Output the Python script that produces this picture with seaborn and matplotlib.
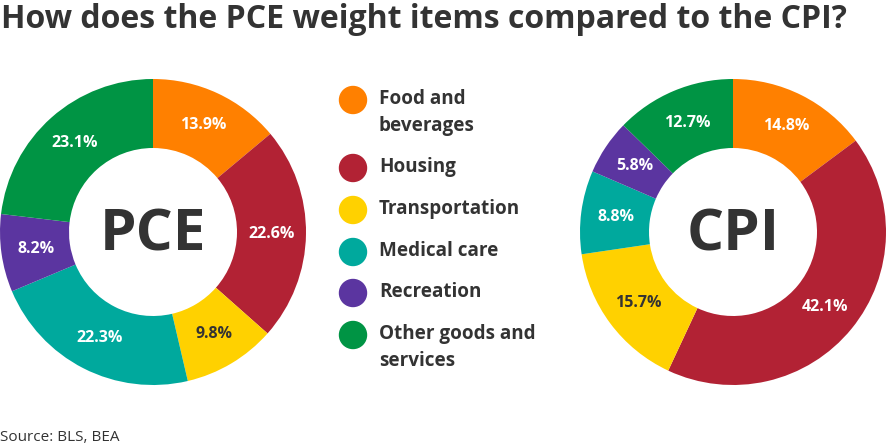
import matplotlib
matplotlib.use("Agg")
import matplotlib.pyplot as plt
import numpy as np
import seaborn as sns

categories = ["Food and\nbeverages", "Housing", "Transportation",
              "Medical care", "Recreation", "Other goods and\nservices"]
pce_values = [13.9, 22.6, 9.8, 22.3, 8.2, 23.1]
cpi_values = [14.8, 42.1, 15.7, 8.8, 5.8, 12.7]
colors = ["#FF8000", "#B22234", "#FFD100", "#00A99D", "#5B35A0", "#009444"]

sns.set_theme(style="white")
plt.rcParams['font.family'] = ['Open Sans', 'DejaVu Sans']

W, H = 886, 448
fig = plt.figure(figsize=(W / 100, H / 100), dpi=100)
dark = "#333333"


def px_axes(cx, cy, r):
    # cx, cy in pixels from top-left
    return fig.add_axes([(cx - r) / W, (H - cy - r) / H, 2 * r / W, 2 * r / H])


def donut(ax, values, name):
    wedges, _ = ax.pie(values, colors=colors, startangle=90, counterclock=False,
                       radius=1.0, wedgeprops=dict(width=1 - 84 / 153, linewidth=0))
    mid = (1 + 84 / 153) / 2
    for i, (w, v) in enumerate(zip(wedges, values)):
        ang = np.deg2rad((w.theta1 + w.theta2) / 2)
        tc = dark if i == 2 else "white"  # dark text on the yellow slice
        ax.text(mid * np.cos(ang), mid * np.sin(ang), f"{v}%", ha="center", va="center",
                color=tc, fontsize=11.5, fontweight="bold")
    ax.text(0, -0.02, name, ha="center", va="center", fontsize=42,
            fontweight="bold", color=dark)
    ax.set_xlim(-1, 1)
    ax.set_ylim(-1, 1)
    ax.set_aspect("equal")
    ax.axis("off")


donut(px_axes(153, 232, 153), pce_values, "PCE")
donut(px_axes(733, 232, 153), cpi_values, "CPI")

# legend
row_y = [100, 168, 210, 252, 293, 335]
for c, lab, y in zip(colors, categories, row_y):
    fig.patches.append(matplotlib.patches.Ellipse((353 / W, 1 - y / H), 27 / W, 27 / H,
                                                  transform=fig.transFigure, color=c))
    fig.text(379 / W, 1 - (y - 11) / H, lab, ha="left", va="top", fontsize=13.6,
             fontweight="bold", color=dark, linespacing=1.5)

fig.text(1 / W, 1 - 20 / H, "How does the PCE weight items compared to the CPI?",
         ha="left", va="center", fontsize=23, fontweight="bold", color=dark)
fig.text(0, 1 - 437 / H, "Source: BLS, BEA", ha="left", va="center",
         fontsize=11, color=dark)

fig.savefig("out.png", dpi=100)
